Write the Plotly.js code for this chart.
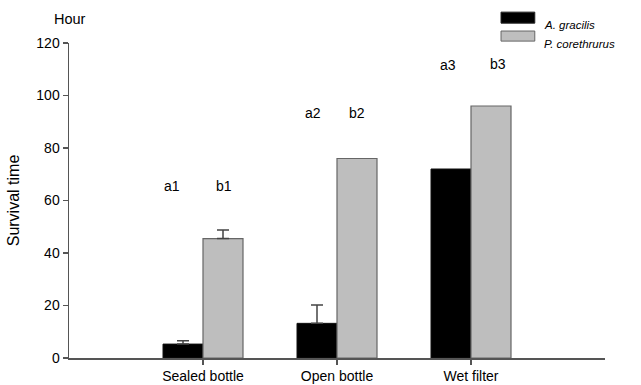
<!DOCTYPE html>
<html><head><meta charset="utf-8">
<script src="https://cdn.plot.ly/plotly-3.0.1.min.js"></script>
<style>html,body{margin:0;padding:0;background:#fff}</style>
</head><body>
<div id="chart" style="width:641px;height:385px"></div>
<script>
const categories = ["Sealed bottle", "Open bottle", "Wet filter"];
const seriesNames = ["A. gracilis", "P. corethrurus"];
const graciliesValues = [5.3, 13.2, 72];
const graciliesErrors = [1.3, 7.0, NaN];
const corethrurusValues = [45.5, 76, 96];
const corethrurusErrors = [3.3, NaN, NaN];
const letterLabels = ["a1", "b1", "a2", "b2", "a3", "b3"];
const yTicks = [0, 20, 40, 60, 80, 100, 120];

const FONT = "Liberation Sans, Arial, sans-serif";
const minusOf = arr => arr.map(v => (Number.isFinite(v) ? 0 : NaN));

const traces = [
  {
    type: "bar", name: seriesNames[0], x: categories, y: graciliesValues,
    marker: {color: "#000000", line: {color: "#111111", width: 1}},
    error_y: {type: "data", symmetric: false, array: graciliesErrors, arrayminus: minusOf(graciliesErrors),
      color: "#444444", thickness: 1.5, width: 6},
    showlegend: false
  },
  {
    type: "bar", name: seriesNames[1], x: categories, y: corethrurusValues,
    marker: {color: "#bebebe", line: {color: "#666666", width: 1.2}},
    error_y: {type: "data", symmetric: false, array: corethrurusErrors, arrayminus: minusOf(corethrurusErrors),
      color: "#444444", thickness: 1.5, width: 6},
    showlegend: false
  }
];

// positions of the letter labels (category index offset, y value)
const letterPos = [[-0.23, 65.5], [0.16, 65.5], [0.82, 93.5], [1.15, 93.5], [1.83, 111.5], [2.2, 112]];
const annotations = letterLabels.map((t, i) => ({
  x: letterPos[i][0], y: letterPos[i][1], xref: "x", yref: "y", text: t,
  showarrow: false, font: {family: FONT, size: 14, color: "#000"}
}));
annotations.push({x: 0.002, y: 1.108, xref: "paper", yref: "paper", xanchor: "center", text: "Hour", showarrow: false,
  font: {family: FONT, size: 14.5, color: "#000"}});
annotations.push({xref: "paper", yref: "paper", x: 0.882, y: 1.081, xanchor: "left", text: "<i>" + seriesNames[0] + "</i>",
  showarrow: false, font: {family: FONT, size: 11.5, color: "#000"}});
annotations.push({xref: "paper", yref: "paper", x: 0.882, y: 1.022, xanchor: "left", text: "<i>" + seriesNames[1] + "</i>",
  showarrow: false, font: {family: FONT, size: 11.5, color: "#000"}});

const shapes = [
  {type: "rect", xref: "paper", yref: "paper", x0: 0.806, x1: 0.869, y0: 1.063, y1: 1.098,
    fillcolor: "#000", line: {color: "#222", width: 1}},
  {type: "rect", xref: "paper", yref: "paper", x0: 0.806, x1: 0.869, y0: 1.006, y1: 1.038,
    fillcolor: "#bebebe", line: {color: "#666", width: 1}}
];

const layout = {
  width: 641, height: 385,
  margin: {l: 69, r: 36, t: 43, b: 27},
  paper_bgcolor: "#fff", plot_bgcolor: "#fff",
  barmode: "group", bargap: 0.403, bargroupgap: 0,
  font: {family: FONT, size: 14, color: "#000"},
  xaxis: {
    type: "category", range: [-1, 3], showgrid: false, zeroline: false,
    showline: true, linecolor: "#555", linewidth: 1.5,
    ticks: "outside", ticklen: 5, tickcolor: "#555", tickwidth: 1.5,
    tickfont: {family: FONT, size: 14, color: "#000"}
  },
  yaxis: {
    range: [0, 120], tickvals: yTicks, showgrid: false, zeroline: false,
    showline: true, linecolor: "#555", linewidth: 1.5,
    ticks: "outside", ticklen: 5, tickcolor: "#555", tickwidth: 1.5,
    tickfont: {family: FONT, size: 14, color: "#000"},
    title: {text: "Survival time", font: {family: FONT, size: 16, color: "#000"}, standoff: 12}
  },
  annotations: annotations,
  shapes: shapes
};

Plotly.newPlot("chart", traces, layout, {staticPlot: true, displayModeBar: false});
</script>
</body></html>
